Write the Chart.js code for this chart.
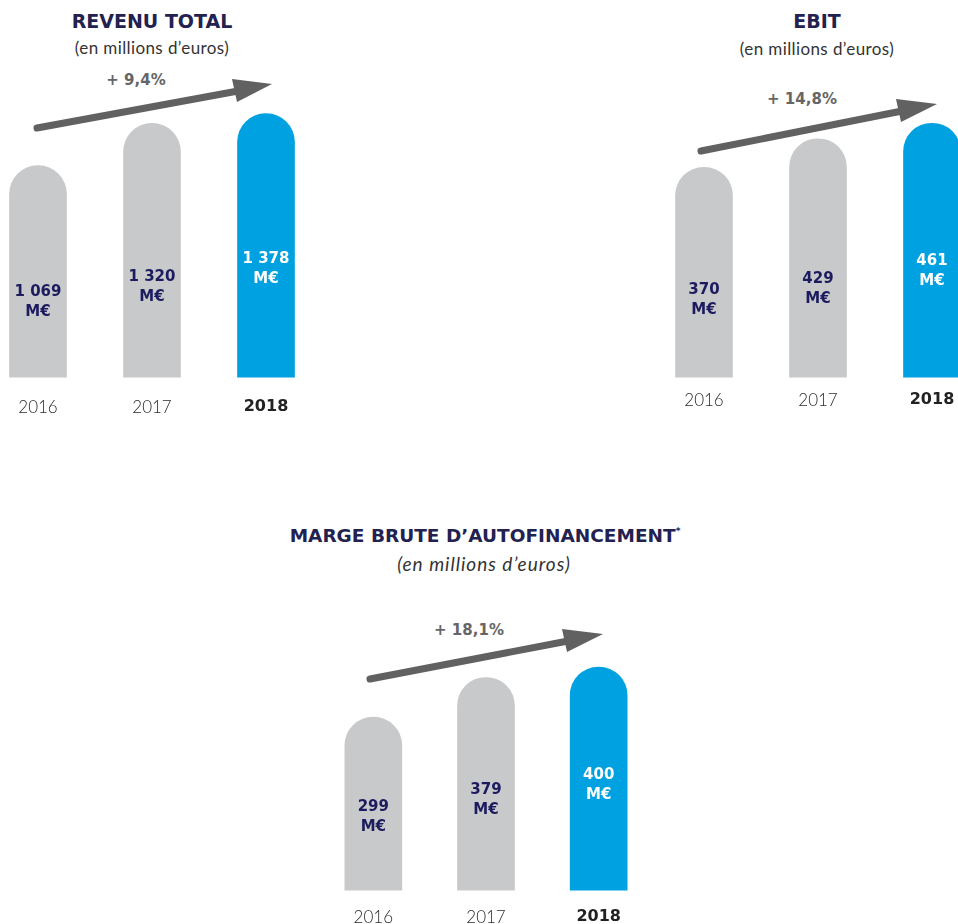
<!DOCTYPE html>
<html>
<head>
<meta charset="utf-8">
<script src="https://cdn.jsdelivr.net/npm/chart.js@4"></script>
<style>
  html, body { margin:0; padding:0; background:#fff; width:958px; height:924px; overflow:hidden; }
  body { position:relative; }
  canvas { position:absolute; }
  .t { position:absolute; transform:translate(-50%,-50%); white-space:nowrap; }
  .title { font-family:"DejaVu Sans"; font-weight:bold; font-size:19px; color:#23214f; }
  .sub { font-family:"Lato"; font-size:17px; letter-spacing:0.4px; color:#333; }
  .pct { font-family:"DejaVu Sans"; font-weight:bold; font-size:15px; color:#666; }
  svg { position:absolute; left:0; top:0; }
</style>
</head>
<body>
<div class="t title" style="left:152px;top:21px">REVENU TOTAL</div>
<div class="t sub" style="left:152px;top:47px">(en millions d’euros)</div>
<div class="t pct" style="left:136px;top:80px">+ 9,4%</div>

<div class="t title" style="left:817px;top:21px">EBIT</div>
<div class="t sub" style="left:817px;top:48px">(en millions d’euros)</div>
<div class="t pct" style="left:802px;top:99px">+ 14,8%</div>

<div class="t title" style="left:485px;top:535px;font-size:18.5px">MARGE BRUTE D’AUTOFINANCEMENT<sup style="font-size:9px;vertical-align:8px">*</sup></div>
<div class="t sub" style="left:484px;top:563px;font-style:italic;font-size:19px;letter-spacing:1px">(en millions d’euros)</div>
<div class="t pct" style="left:469px;top:630px">+ 18,1%</div>

<svg width="958" height="924">
  <g fill="#616161" stroke="#616161">
    <line x1="37" y1="128" x2="238" y2="91" stroke-width="7" stroke-linecap="round"/>
    <polygon points="272,84 232,79 237,102" stroke="none"/>
    <line x1="701" y1="151" x2="902" y2="111" stroke-width="7" stroke-linecap="round"/>
    <polygon points="937,104 896,99 901,122" stroke="none"/>
    <line x1="370" y1="679" x2="568" y2="641" stroke-width="7" stroke-linecap="round"/>
    <polygon points="603,634 562,629 567,652" stroke="none"/>
  </g>
</svg>

<canvas id="c1" width="342" height="338" style="left:-19px;top:100px"></canvas>
<canvas id="c2" width="342" height="324" style="left:647px;top:100px"></canvas>
<canvas id="c3" width="338" height="305" style="left:317px;top:640px"></canvas>

<script>
const years = ['2016', '2017', '2018'];
const revenuTotal = [1069, 1320, 1378];
const ebit = [370, 429, 461];
const margeBrute = [299, 379, 400];
const unit = 'M€';

const GRAY = '#c8c9cb';
const BLUE = '#00a1e0';
const NAVY = '#1c1b5e';

function fmt(v) {
  return String(v).replace(/\B(?=(\d{3})+(?!\d))/g, ' ');
}

const valueLabels = {
  id: 'valueLabels',
  afterDatasetsDraw(chart, args, opts) {
    const ctx = chart.ctx;
    const meta = chart.getDatasetMeta(0);
    const data = chart.data.datasets[0].data;
    ctx.save();
    ctx.font = 'bold 15px "DejaVu Sans"';
    ctx.textAlign = 'center';
    ctx.textBaseline = 'middle';
    meta.data.forEach((bar, i) => {
      const p = bar.getProps(['x', 'y', 'base'], true);
      const hi = i === data.length - 1;
      const f = hi ? opts.fracHi : opts.frac;
      const cy = p.base - f * (p.base - p.y);
      ctx.fillStyle = hi ? '#ffffff' : NAVY;
      ctx.fillText(fmt(data[i]), p.x, cy - 10);
      ctx.fillText(unit, p.x, cy + 10);
    });
    ctx.restore();
  }
};

function makeChart(id, values, yMin, yMax, pad, frac, fracHi) {
  return new Chart(document.getElementById(id), {
    type: 'bar',
    data: {
      labels: years,
      datasets: [{
        data: values,
        base: yMin,
        backgroundColor: values.map((v, i) => i === values.length - 1 ? BLUE : GRAY),
        barThickness: 57,
        borderRadius: { topLeft: 28.5, topRight: 28.5, bottomLeft: 0, bottomRight: 0 },
        borderSkipped: false
      }]
    },
    options: {
      responsive: false,
      animation: false,
      layout: { padding: 0 },
      plugins: {
        legend: { display: false },
        tooltip: { enabled: false },
        valueLabels: { frac, fracHi }
      },
      scales: {
        x: {
          grid: { display: false, drawTicks: false },
          border: { display: false },
          ticks: {
            padding: pad,
            color: (c) => c.index === 2 ? '#222' : '#2a2a2a',
            font: (c) => c.index === 2
              ? { family: 'DejaVu Sans', size: 16, weight: 'bold', lineHeight: 1.2 }
              : { family: 'Lato', size: 17, weight: '300', lineHeight: 1.2 }
          }
        },
        y: { display: false, min: yMin, max: yMax }
      }
    },
    plugins: [valueLabels]
  });
}

makeChart('c1', revenuTotal, -190, 1459, 20, 0.355, 0.41);
makeChart('c2', ebit, -64, 509, 13, 0.37, 0.417);
makeChart('c3', margeBrute, -50.5, 454.5, 17, 0.425, 0.47);
</script>
</body>
</html>
